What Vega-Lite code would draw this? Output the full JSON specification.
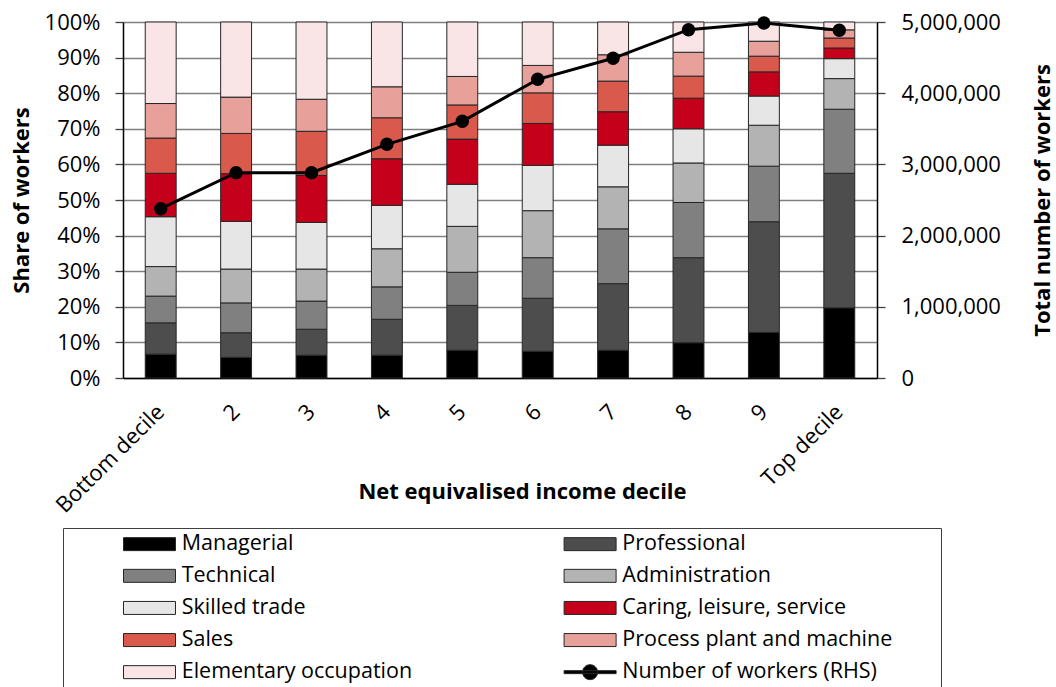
{
  "$schema": "https://vega.github.io/schema/vega-lite/v6.json",
  "width": 754,
  "height": 356,
  "autosize": {"type": "none"},
  "padding": {"left": 123, "top": 22, "right": 179, "bottom": 309},
  "config": {
    "font": "Open Sans",
    "view": {"stroke": null},
    "axis": {"labelFont": "Open Sans", "titleFont": "Open Sans", "labelColor": "#000000", "titleColor": "#000000"}
  },
  "datasets": {
    "shares": [
      {"decile": "Bottom decile", "occupation": "Managerial", "share": 6.7},
      {"decile": "Bottom decile", "occupation": "Professional", "share": 8.8},
      {"decile": "Bottom decile", "occupation": "Technical", "share": 7.5},
      {"decile": "Bottom decile", "occupation": "Administration", "share": 8.3},
      {"decile": "Bottom decile", "occupation": "Skilled trade", "share": 14.0},
      {"decile": "Bottom decile", "occupation": "Caring, leisure, service", "share": 12.2},
      {"decile": "Bottom decile", "occupation": "Sales", "share": 9.9},
      {"decile": "Bottom decile", "occupation": "Process plant and machine", "share": 9.7},
      {"decile": "Bottom decile", "occupation": "Elementary occupation", "share": 22.9},
      {"decile": "2", "occupation": "Managerial", "share": 5.8},
      {"decile": "2", "occupation": "Professional", "share": 6.9},
      {"decile": "2", "occupation": "Technical", "share": 8.4},
      {"decile": "2", "occupation": "Administration", "share": 9.5},
      {"decile": "2", "occupation": "Skilled trade", "share": 13.4},
      {"decile": "2", "occupation": "Caring, leisure, service", "share": 13.4},
      {"decile": "2", "occupation": "Sales", "share": 11.3},
      {"decile": "2", "occupation": "Process plant and machine", "share": 10.2},
      {"decile": "2", "occupation": "Elementary occupation", "share": 21.1},
      {"decile": "3", "occupation": "Managerial", "share": 6.4},
      {"decile": "3", "occupation": "Professional", "share": 7.3},
      {"decile": "3", "occupation": "Technical", "share": 7.9},
      {"decile": "3", "occupation": "Administration", "share": 9.0},
      {"decile": "3", "occupation": "Skilled trade", "share": 13.1},
      {"decile": "3", "occupation": "Caring, leisure, service", "share": 13.2},
      {"decile": "3", "occupation": "Sales", "share": 12.4},
      {"decile": "3", "occupation": "Process plant and machine", "share": 9.0},
      {"decile": "3", "occupation": "Elementary occupation", "share": 21.7},
      {"decile": "4", "occupation": "Managerial", "share": 6.4},
      {"decile": "4", "occupation": "Professional", "share": 10.1},
      {"decile": "4", "occupation": "Technical", "share": 9.1},
      {"decile": "4", "occupation": "Administration", "share": 10.7},
      {"decile": "4", "occupation": "Skilled trade", "share": 12.2},
      {"decile": "4", "occupation": "Caring, leisure, service", "share": 13.1},
      {"decile": "4", "occupation": "Sales", "share": 11.5},
      {"decile": "4", "occupation": "Process plant and machine", "share": 8.7},
      {"decile": "4", "occupation": "Elementary occupation", "share": 18.2},
      {"decile": "5", "occupation": "Managerial", "share": 7.8},
      {"decile": "5", "occupation": "Professional", "share": 12.6},
      {"decile": "5", "occupation": "Technical", "share": 9.3},
      {"decile": "5", "occupation": "Administration", "share": 12.9},
      {"decile": "5", "occupation": "Skilled trade", "share": 11.8},
      {"decile": "5", "occupation": "Caring, leisure, service", "share": 12.7},
      {"decile": "5", "occupation": "Sales", "share": 9.6},
      {"decile": "5", "occupation": "Process plant and machine", "share": 8.0},
      {"decile": "5", "occupation": "Elementary occupation", "share": 15.3},
      {"decile": "6", "occupation": "Managerial", "share": 7.5},
      {"decile": "6", "occupation": "Professional", "share": 14.9},
      {"decile": "6", "occupation": "Technical", "share": 11.4},
      {"decile": "6", "occupation": "Administration", "share": 13.2},
      {"decile": "6", "occupation": "Skilled trade", "share": 12.7},
      {"decile": "6", "occupation": "Caring, leisure, service", "share": 11.8},
      {"decile": "6", "occupation": "Sales", "share": 8.6},
      {"decile": "6", "occupation": "Process plant and machine", "share": 7.7},
      {"decile": "6", "occupation": "Elementary occupation", "share": 12.2},
      {"decile": "7", "occupation": "Managerial", "share": 7.8},
      {"decile": "7", "occupation": "Professional", "share": 18.7},
      {"decile": "7", "occupation": "Technical", "share": 15.4},
      {"decile": "7", "occupation": "Administration", "share": 11.8},
      {"decile": "7", "occupation": "Skilled trade", "share": 11.7},
      {"decile": "7", "occupation": "Caring, leisure, service", "share": 9.4},
      {"decile": "7", "occupation": "Sales", "share": 8.6},
      {"decile": "7", "occupation": "Process plant and machine", "share": 7.4},
      {"decile": "7", "occupation": "Elementary occupation", "share": 9.2},
      {"decile": "8", "occupation": "Managerial", "share": 9.9},
      {"decile": "8", "occupation": "Professional", "share": 23.9},
      {"decile": "8", "occupation": "Technical", "share": 15.5},
      {"decile": "8", "occupation": "Administration", "share": 11.1},
      {"decile": "8", "occupation": "Skilled trade", "share": 9.6},
      {"decile": "8", "occupation": "Caring, leisure, service", "share": 8.6},
      {"decile": "8", "occupation": "Sales", "share": 6.2},
      {"decile": "8", "occupation": "Process plant and machine", "share": 6.7},
      {"decile": "8", "occupation": "Elementary occupation", "share": 8.5},
      {"decile": "9", "occupation": "Managerial", "share": 12.8},
      {"decile": "9", "occupation": "Professional", "share": 31.1},
      {"decile": "9", "occupation": "Technical", "share": 15.6},
      {"decile": "9", "occupation": "Administration", "share": 11.5},
      {"decile": "9", "occupation": "Skilled trade", "share": 8.2},
      {"decile": "9", "occupation": "Caring, leisure, service", "share": 6.8},
      {"decile": "9", "occupation": "Sales", "share": 4.4},
      {"decile": "9", "occupation": "Process plant and machine", "share": 4.2},
      {"decile": "9", "occupation": "Elementary occupation", "share": 5.4},
      {"decile": "Top decile", "occupation": "Managerial", "share": 19.7},
      {"decile": "Top decile", "occupation": "Professional", "share": 37.8},
      {"decile": "Top decile", "occupation": "Technical", "share": 18.0},
      {"decile": "Top decile", "occupation": "Administration", "share": 8.6},
      {"decile": "Top decile", "occupation": "Skilled trade", "share": 5.6},
      {"decile": "Top decile", "occupation": "Caring, leisure, service", "share": 3.0},
      {"decile": "Top decile", "occupation": "Sales", "share": 2.8},
      {"decile": "Top decile", "occupation": "Process plant and machine", "share": 2.3},
      {"decile": "Top decile", "occupation": "Elementary occupation", "share": 2.2}
    ],
    "workers": [
      {"decile": "Bottom decile", "workers": 2378000},
      {"decile": "2", "workers": 2884000},
      {"decile": "3", "workers": 2884000},
      {"decile": "4", "workers": 3282000},
      {"decile": "5", "workers": 3605000},
      {"decile": "6", "workers": 4195000},
      {"decile": "7", "workers": 4490000},
      {"decile": "8", "workers": 4892000},
      {"decile": "9", "workers": 4986000},
      {"decile": "Top decile", "workers": 4883000}
    ]
  },
  "layer": [
    {
      "data": {"name": "shares"},
      "transform": [
        {"calculate": "indexof(['Managerial','Professional','Technical','Administration','Skilled trade','Caring, leisure, service','Sales','Process plant and machine','Elementary occupation'], datum.occupation)", "as": "rank"}
      ],
      "mark": {"type": "bar", "stroke": "#262626", "strokeWidth": 1},
      "encoding": {
        "x": {
          "field": "decile", "type": "nominal",
          "sort": ["Bottom decile", "2", "3", "4", "5", "6", "7", "8", "9", "Top decile"],
          "scale": {"paddingInner": 0.59, "paddingOuter": 0.295},
          "axis": {
            "title": "Net equivalised income decile",
            "titleFontSize": 22, "titleFontWeight": "bold",
            "titleX": 399, "titleY": 120, "titleBaseline": "alphabetic", "titleAlign": "center",
            "labelAngle": -45, "labelAlign": "right", "labelBaseline": "middle",
            "labelFontSize": 22, "labelPadding": 30,
            "ticks": false, "tickSize": 0,
            "domainColor": "#000000", "domainWidth": 1.5,
            "grid": false
          }
        },
        "y": {
          "field": "share", "type": "quantitative", "stack": "zero",
          "scale": {"domain": [0, 100], "nice": false},
          "axis": {
            "title": "Share of workers",
            "titleFontSize": 22, "titleFontWeight": "bold",
            "titleX": -102, "titleBaseline": "middle", "titleAngle": 270, "titleAlign": "center",
            "values": [0, 10, 20, 30, 40, 50, 60, 70, 80, 90, 100],
            "labelExpr": "datum.value + '%'",
            "labelFontSize": 22, "labelPadding": 15,
            "tickSize": 8, "tickColor": "#404040", "tickWidth": 1.3,
            "domainColor": "#000000", "domainWidth": 1.5,
            "grid": true, "gridColor": "#7f7f7f", "gridWidth": 1.3
          }
        },
        "color": {
          "field": "occupation", "type": "nominal",
          "scale": {
            "domain": ["Managerial", "Professional", "Technical", "Administration", "Skilled trade", "Caring, leisure, service", "Sales", "Process plant and machine", "Elementary occupation", "Number of workers (RHS)"],
            "range": ["#000000", "#4d4d4d", "#808080", "#b3b3b3", "#e6e6e6", "#c4001a", "#d9594c", "#e8a19a", "#f9e4e6", "#000000"]
          },
          "legend": {
            "title": " ", "titleOrient": "right", "titlePadding": 44, "titleFontSize": 10,
            "orient": "none", "legendX": -60, "legendY": 506,
            "direction": "horizontal", "columns": 2,
            "padding": 5,
            "strokeColor": "#404040", "fillColor": "#ffffff",
            "symbolSize": 100, "symbolStrokeWidth": 1, "symbolStrokeColor": "#262626",
            "symbolOffset": 70.75, "labelOffset": 21.45,
            "labelFontSize": 21.5, "labelFont": "Open Sans", "labelColor": "#000000", "labelLimit": 600,
            "rowPadding": 9.1, "columnPadding": 95.6,
            "encode": {
              "symbols": {
                "update": {
                  "shape": {"signal": "datum.value === 'Number of workers (RHS)' ? 'M-5.2,-0.3H5.2V0.3H-5.2Z M-1.5,0A1.5,1.5 0 1,1 1.5,0A1.5,1.5 0 1,1 -1.5,0Z' : 'M-5.2,-1.3H5.2V1.3H-5.2Z'"},
                  "opacity": {"value": 1}
                }
              }
            }
          }
        },
        "order": {"field": "rank", "type": "quantitative"}
      }
    },
    {
      "data": {"name": "workers"},
      "mark": {"type": "line", "color": "#000000", "strokeWidth": 3, "point": {"filled": true, "size": 180, "color": "#000000"}},
      "encoding": {
        "x": {"field": "decile", "type": "nominal", "sort": ["Bottom decile", "2", "3", "4", "5", "6", "7", "8", "9", "Top decile"]},
        "y": {
          "field": "workers", "type": "quantitative",
          "scale": {"domain": [0, 5000000], "nice": false},
          "axis": {
            "orient": "right",
            "title": "Total number of workers",
            "titleFontSize": 22, "titleFontWeight": "bold",
            "titleX": 165, "titleBaseline": "middle", "titleAngle": 270, "titleAlign": "center",
            "values": [0, 1000000, 2000000, 3000000, 4000000, 5000000],
            "format": ",d",
            "labelFontSize": 22, "labelPadding": 16,
            "tickSize": 8, "tickColor": "#404040", "tickWidth": 1.3,
            "domainColor": "#000000", "domainWidth": 1.5,
            "grid": false
          }
        }
      }
    }
  ],
  "resolve": {"scale": {"y": "independent"}}
}
